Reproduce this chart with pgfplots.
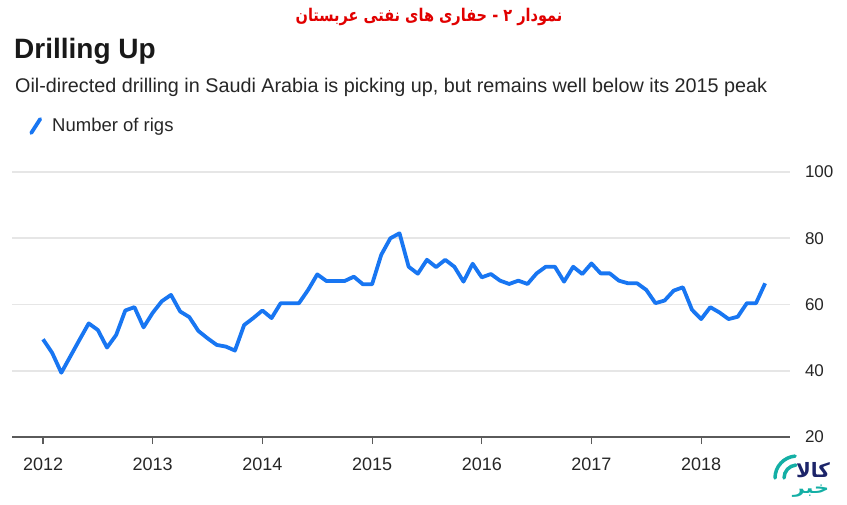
\documentclass[border=0pt]{standalone}
\usepackage{fontspec}
\usepackage{pgfplots}
\usepackage{pgfplotstable}
\pgfplotsset{compat=1.18}
\setmainfont{Liberation Sans}
\newfontfamily\arabicfont[Script=Arabic]{DejaVu Sans}
\TeXXeTstate=1
\definecolor{rigblue}{RGB}{24,118,242}
\definecolor{gridgray}{RGB}{230,230,230}
\definecolor{axisgray}{RGB}{90,90,90}
\definecolor{titlered}{RGB}{225,0,0}
\definecolor{logonavy}{RGB}{28,36,105}
\definecolor{logoteal}{RGB}{20,175,165}
\pgfplotstableread{
m v
0 49.5
1 45.4
2 39.4
3 44.4
4 49.4
5 54.3
6 52.3
7 47.0
8 50.8
9 58.2
10 59.2
11 53.1
12 57.5
13 61.0
14 62.9
15 57.9
16 56.2
17 52.0
18 49.8
19 47.8
20 47.3
21 46.1
22 53.8
23 55.9
24 58.2
25 55.9
26 60.4
27 60.4
28 60.4
29 64.4
30 69.1
31 67.1
32 67.1
33 67.1
34 68.4
35 66.1
36 66.1
37 75.0
38 80.0
39 81.5
40 71.4
41 69.3
42 73.5
43 71.3
44 73.5
45 71.4
46 66.9
47 72.3
48 68.2
49 69.2
50 67.2
51 66.2
52 67.2
53 66.2
54 69.4
55 71.4
56 71.4
57 66.9
58 71.4
59 69.2
60 72.4
61 69.4
62 69.4
63 67.2
64 66.4
65 66.4
66 64.4
67 60.4
68 61.2
69 64.2
70 65.2
71 58.4
72 55.6
73 59.2
74 57.6
75 55.6
76 56.3
77 60.4
78 60.4
79 66.4
}\rigs
\begin{document}
\begin{tikzpicture}
\path[use as bounding box] (0bp,0bp) rectangle (847bp,-505bp);
\node[anchor=center, inner sep=0pt, text=titlered] at (429bp,-17bp)
  {\scalebox{0.83}[1]{\fontsize{17.5bp}{20bp}\selectfont\arabicfont\bfseries\beginR نمودار ۲ - حفاری های نفتی عربستان\endR}};
\node[anchor=base west, inner sep=0pt, text=black!90] at (14bp,-58bp)
  {\fontsize{28bp}{30bp}\selectfont\bfseries Drilling Up};
\node[anchor=base west, inner sep=0pt, text=black!85] at (15bp,-92bp)
  {\resizebox{752bp}{!}{\fontsize{19bp}{22bp}\selectfont Oil-directed drilling in Saudi Arabia is picking up, but remains well below its 2015 peak}};
\begin{axis}[
  at={(12bp,-437bp)}, anchor=south west,
  scale only axis, width=778bp, height=265bp,
  xmin=2011.717, xmax=2018.81, ymin=20, ymax=100,
  axis x line=bottom, axis y line=right,
  x axis line style={draw=axisgray, line width=2bp, -},
  y axis line style={draw=none},
  xtick={2012,2013,2014,2015,2016,2017,2018},
  ytick={20,40,60,80,100},
  xtick align=outside,
  major tick length=7bp,
  xtick style={draw=axisgray, line width=1.2bp},
  ytick style={draw=none},
  ymajorgrids, grid style={draw=gridgray, line width=1.6bp},
  xticklabel style={font=\fontsize{18bp}{20bp}\selectfont, text=black!85, yshift=-10bp},
  yticklabel style={font=\fontsize{17bp}{20bp}\selectfont, text=black!85, anchor=west, xshift=8bp},
  /pgf/number format/assume math mode=true,
  /pgf/number format/1000 sep={},
  clip=false,
  legend style={at={(0.0206,1.1736)}, anchor=west, draw=none, fill=none, inner sep=0pt,
    font=\fontsize{18.5bp}{20bp}\selectfont, text=black!85},
  legend cell align=left,
  legend image code/.code={\path[draw=none,fill=none] (-1bp,0bp) (21bp,0bp);\draw[#1, line cap=round] (2bp,-7bp) -- (11bp,7bp);},
]
\addplot[rigblue, line width=3.8bp, line join=round] table[x expr=2012+\thisrow{m}/12, y=v] {\rigs};
\addlegendentry{Number of rigs}
\end{axis}
% logo watermark
\draw[logoteal, line width=3.5bp, line cap=round] (775bp,-478bp) arc (180:95:22bp);
\draw[logoteal, line width=3.5bp, line cap=round] (784bp,-478bp) arc (180:95:13bp);
\node[text=logonavy, inner sep=0pt] at (813bp,-470bp) {\scalebox{1.1}[1.1]{\fontsize{18bp}{19bp}\selectfont\arabicfont\bfseries\beginR کالا\endR}};
\node[text=logoteal, inner sep=0pt] at (811bp,-491bp) {\scalebox{1.3}[1]{\fontsize{16bp}{17bp}\selectfont\arabicfont\bfseries\beginR خبر\endR}};
\end{tikzpicture}
\end{document}
